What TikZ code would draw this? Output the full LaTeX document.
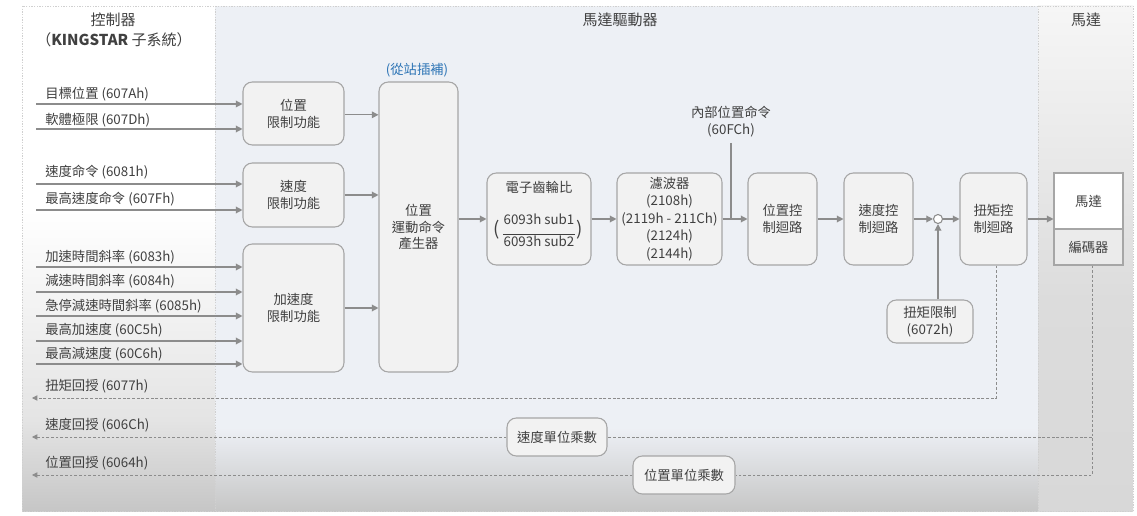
\documentclass[tikz,border=0pt]{standalone}
\usepackage{fontspec}
\setmainfont{Noto Sans CJK TC}
\usetikzlibrary{arrows.meta,calc}
\definecolor{linec}{HTML}{8C8C8C}
\definecolor{boxd}{HTML}{A6A6A6}
\definecolor{boxf}{HTML}{F2F2F2}
\definecolor{txt}{HTML}{404040}
\definecolor{midbg}{HTML}{EDF0F5}
\definecolor{bluet}{HTML}{2E75B6}
\definecolor{bord}{HTML}{D0D0D0}
\definecolor{lgA}{HTML}{E4E4E4}
\definecolor{lgB}{HTML}{C6C6C6}
\definecolor{rtA}{HTML}{F6F6F6}
\definecolor{rtB}{HTML}{DCDCDC}
\definecolor{rtC}{HTML}{D8D8D8}
\definecolor{encf}{HTML}{EBEBEB}
\begin{document}
\begin{tikzpicture}[x=0.75pt,y=-0.75pt,
  font=\fontsize{10}{12.75}\selectfont,
  every node/.style={text=txt},
  box/.style={draw=boxd, fill=boxf, rounded corners=7pt, line width=0.8pt, align=center, inner sep=0pt},
  sqbox/.style={draw=boxd, line width=0.8pt, align=center, inner sep=0pt},
  wd/.style={minimum width=#1*0.75pt},
  ht/.style={minimum height=#1*0.75pt},
  conn/.style={draw=linec, line width=0.9pt, -{Triangle[length=5pt,width=5pt]}},
  plain/.style={draw=linec, line width=0.9pt},
  fb/.style={draw=linec, line width=0.6pt, dash pattern=on 2.2pt off 1.3pt, -{Triangle[length=4pt,width=4pt]}},
  fbl/.style={draw=linec, line width=0.6pt, dash pattern=on 2.2pt off 1.3pt},
  lbl/.style={anchor=west, inner sep=0pt},
  hdr/.style={font=\fontsize{11.25}{14}\selectfont, align=center, inner sep=0pt},
  bordl/.style={draw=bord, line width=0.5pt, dash pattern=on 1pt off 1pt}
]
\useasboundingbox (0,0) rectangle (1137,516);
% backgrounds
\fill[white] (22,6) rectangle (215,210);
\shade[top color=white,bottom color=lgA] (22,210) rectangle (215,420);
\shade[top color=lgA,bottom color=lgB] (22,420) rectangle (215,511);
\fill[midbg] (215,6) rectangle (1038,428);
\shade[top color=midbg,bottom color=lgB] (215,428) rectangle (1038,511);
\shade[top color=rtA,bottom color=rtB] (1038,6) rectangle (1133,300);
\shade[top color=rtB,bottom color=rtC] (1038,300) rectangle (1133,511);
\draw[bordl] (22,6) rectangle (1133,511);
\draw[bordl] (215,6) -- (215,511);
\draw[bordl] (1038,6) -- (1038,511);

% headers
\node[hdr] (hctl) at (113,20) {控制器};
\node[hdr] (hctl2) at (114,40) {（\textbf{KINGSTAR} 子系統）};
\node[hdr] (hdrv) at (620,20) {馬達驅動器};
\node[hdr] (hmot) at (1086,20) {馬達};
\node[inner sep=0pt, text=bluet] (slave) at (417,70) {(從站插補)};

% boxes
\node[box, wd=101, ht=63] (bpos) at (293.5,113.5) {位置\\限制功能};
\node[box, wd=101, ht=64] (bvel) at (293.5,195) {速度\\限制功能};
\node[box, wd=101, ht=128] (bacc) at (293.5,308) {加速度\\限制功能};
\node[box, wd=79, ht=290, font=\fontsize{10}{12.4}\selectfont] (bgen) at (418.5,227) {位置\\運動命令\\產生器};
\node[box, wd=104, ht=92] (bgear) at (539,219) {};
\node[inner sep=0pt] (gtitle) at (539,187) {電子齒輪比};
\node[inner sep=0pt] (gnum) at (539,219) {6093h sub1};
\node[inner sep=0pt] (gden) at (539,241) {6093h sub2};
\draw[draw=txt, line width=0.5pt] (gden.north west) ++(0,-1) coordinate (fbA) -- (fbA -| gden.north east);
\node[inner sep=0pt, font=\fontsize{14}{16}\selectfont] (gpl) at (497,230) {(};
\node[inner sep=0pt, font=\fontsize{14}{16}\selectfont] (gpr) at (580,230) {)};
\node[box, wd=105, ht=92, font=\fontsize{10}{13.1}\selectfont] (bfilt) at (669.5,219) {濾波器\\(2108h)\\(2119h - 211Ch)\\(2124h)\\(2144h)};
\node[box, wd=69, ht=92] (bpl) at (782.5,219) {位置控\\制迴路};
\node[box, wd=69, ht=92] (bvl) at (878.5,219) {速度控\\制迴路};
\node[circle, draw=linec, fill=white, line width=0.8pt, minimum size=9*0.75pt, inner sep=0pt] (sum) at (938,219) {};
\node[box, wd=67, ht=92] (btl) at (993.5,219) {扭矩控\\制迴路};
\node[sqbox, fill=white, wd=69, ht=56] (bmot) at (1088.5,201) {馬達};
\node[sqbox, fill=encf, wd=69, ht=36] (benc) at (1088.5,247) {編碼器};
\node[box, wd=86, ht=43] (btlim) at (930,321.5) {扭矩限制\\(6072h)};
\node[box, wd=100, ht=38] (bvu) at (557,437) {速度單位乘數};
\node[box, wd=102, ht=38] (bpu) at (684,475) {位置單位乘數};
\node[align=center, inner sep=0pt] (ipc) at (731,121.5) {內部位置命令\\(60FCh)};

% input labels and lines
\node[lbl] (l1) at (45,94) {目標位置 (607Ah)};
\node[lbl] (l2) at (45,120) {軟體極限 (607Dh)};
\node[lbl] (l3) at (45,172) {速度命令 (6081h)};
\node[lbl] (l4) at (45,199) {最高速度命令 (607Fh)};
\node[lbl] (l5) at (45,257) {加速時間斜率 (6083h)};
\node[lbl] (l6) at (45,281) {減速時間斜率 (6084h)};
\node[lbl] (l7) at (45,306) {急停減速時間斜率 (6085h)};
\node[lbl] (l8) at (45,330) {最高加速度 (60C5h)};
\node[lbl] (l9) at (45,354) {最高減速度 (60C6h)};
\node[lbl] (f1) at (45,386) {扭矩回授 (6077h)};
\node[lbl] (f2) at (45,425) {速度回授 (606Ch)};
\node[lbl] (f3) at (45,463) {位置回授 (6064h)};

\coordinate (s1) at (36,104);
\coordinate (s2) at (36,129);
\coordinate (s3) at (36,184);
\coordinate (s4) at (36,210);
\coordinate (s5) at (36,267);
\coordinate (s6) at (36,292);
\coordinate (s7) at (36,316);
\coordinate (s8) at (36,341);
\coordinate (s9) at (36,364);
\draw[conn] (s1) -- (s1 -| bpos.west);
\draw[conn] (s2) -- (s2 -| bpos.west);
\draw[conn] (s3) -- (s3 -| bvel.west);
\draw[conn] (s4) -- (s4 -| bvel.west);
\draw[conn] (s5) -- (s5 -| bacc.west);
\draw[conn] (s6) -- (s6 -| bacc.west);
\draw[conn] (s7) -- (s7 -| bacc.west);
\draw[conn] (s8) -- (s8 -| bacc.west);
\draw[conn] (s9) -- (s9 -| bacc.west);

% limit blocks to generator
\draw[conn] ([yshift=-1pt]bpos.east) -- ([yshift=-1pt]bpos.east -| bgen.west);
\draw[conn] (bvel.east) -- (bvel.east -| bgen.west);
\draw[conn] (bacc.east) -- (bacc.east -| bgen.west);

% main chain
\draw[conn] (bgen.east |- bgear.west) -- (bgear.west);
\draw[conn] (bgear.east) -- (bfilt.west);
\draw[conn] (bfilt.east) -- (bpl.west);
\coordinate (jt) at (731,143);
\draw[plain] (jt) -- (jt |- bpl.west);
\draw[conn] (bpl.east) -- (bvl.west);
\draw[conn] (bvl.east) -- (sum.west);
\draw[conn] (sum.east) -- (btl.west);
\draw[conn] (btl.east) -- (btl.east -| bmot.west);
\draw[conn] (sum.south |- btlim.north) -- (sum.south);

% feedback
\coordinate (ft) at (32,398);
\coordinate (fv) at (32,437);
\coordinate (fp) at (32,475);
\draw[fb] ([xshift=2.25pt]btl.south) |- (ft);
\draw[fbl] ([xshift=2.6pt]benc.south) |- (bpu.east);
\draw[fb] (bpu.west) -- (fp);
\draw[fbl] ([xshift=2.6pt]benc.south |- bvu.east) -- (bvu.east);
\draw[fb] (bvu.west) -- (fv);
\end{tikzpicture}
\end{document}
